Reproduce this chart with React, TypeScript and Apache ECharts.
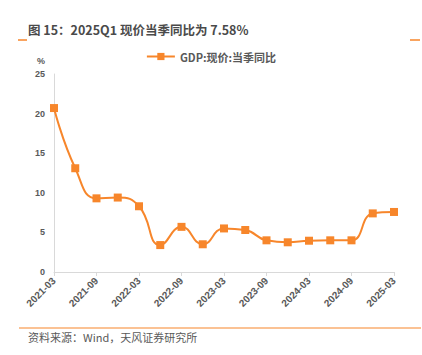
import React, { useEffect, useRef } from "react";
import * as echarts from "echarts";

const categories = [
  "2021-03", "2021-06", "2021-09", "2021-12",
  "2022-03", "2022-06", "2022-09", "2022-12",
  "2023-03", "2023-06", "2023-09", "2023-12",
  "2024-03", "2024-06", "2024-09", "2024-12",
  "2025-03",
];
const gdpValues = [20.7, 13.1, 9.3, 9.4, 8.3, 3.4, 5.7, 3.5, 5.5, 5.3, 4.0, 3.75, 3.95, 4.0, 4.0, 7.4, 7.58];
const seriesName = "GDP:现价:当季同比";
const titleText = "图 15：2025Q1 现价当季同比为 7.58%";
const sourceText = "资料来源：Wind，天风证券研究所";

const ORANGE = "#F7862B";
const FONT = "'Noto Sans CJK SC', 'Noto Sans', sans-serif";
const NUMFONT = "Arial, 'Liberation Sans', sans-serif";

export default function App() {
  const ref = useRef<HTMLDivElement>(null);
  useEffect(() => {
    if (!ref.current) return;
    const chart = echarts.init(ref.current, undefined, { renderer: "svg" });
    chart.setOption({
      animation: false,
      backgroundColor: "#ffffff",
      textStyle: { fontFamily: FONT },
      graphic: [
        { type: "line", shape: { x1: 18, y1: 40, x2: 27, y2: 40 }, style: { stroke: ORANGE, lineWidth: 1.5 } },
        { type: "line", shape: { x1: 410, y1: 40, x2: 420, y2: 40 }, style: { stroke: ORANGE, lineWidth: 1.5 } },
        {
          type: "text", left: 28, top: 23,
          style: { text: titleText, fontSize: 12.5, fontWeight: "bold", fill: "#4a4a4a", fontFamily: FONT },
        },
        { type: "line", shape: { x1: 19, y1: 328, x2: 421, y2: 328 }, style: { stroke: ORANGE, lineWidth: 1.2 } },
        {
          type: "text", left: 28, top: 331,
          style: { text: sourceText, fontSize: 11, fill: "#595959", fontFamily: FONT },
        },
      ],
      legend: {
        top: 46,
        left: "center",
        itemWidth: 28,
        itemHeight: 9,
        textStyle: { fontSize: 11, fontWeight: "bold", color: "#595959", fontFamily: FONT },
        data: [seriesName],
      },
      grid: { left: 54, right: 28, top: 74, bottom: 83, containLabel: false },
      xAxis: {
        type: "category",
        data: categories,
        boundaryGap: false,
        axisLine: { lineStyle: { color: "#d9d9d9" } },
        axisTick: { show: true, interval: 1, length: 4, lineStyle: { color: "#d9d9d9" } },
        axisLabel: {
          interval: 1, rotate: 45, fontSize: 10, fontWeight: "bold", color: "#595959", margin: 7,
          fontFamily: NUMFONT,
        },
        splitLine: { show: false },
      },
      yAxis: {
        type: "value",
        min: 0,
        max: 25,
        interval: 5,
        name: "%",
        nameLocation: "end",
        nameGap: 9,
        nameTextStyle: { fontSize: 9, fontWeight: "bold", color: "#595959", align: "right", padding: [0, 9, 0, 0], fontFamily: NUMFONT },
        axisLine: { show: true, lineStyle: { color: "#d9d9d9" } },
        axisTick: { show: false },
        axisLabel: { fontSize: 9, fontWeight: "bold", color: "#595959", margin: 9, fontFamily: NUMFONT },
        splitLine: { show: false },
      },
      series: [
        {
          name: seriesName,
          type: "line",
          data: gdpValues,
          smooth: true,
          symbol: "rect",
          symbolSize: 8,
          lineStyle: { color: ORANGE, width: 2 },
          itemStyle: { color: ORANGE },
        },
      ],
    });
    return () => chart.dispose();
  }, []);
  return <div ref={ref} style={{ width: 422, height: 355, position: "absolute", left: 0, top: 0 }} />;
}
